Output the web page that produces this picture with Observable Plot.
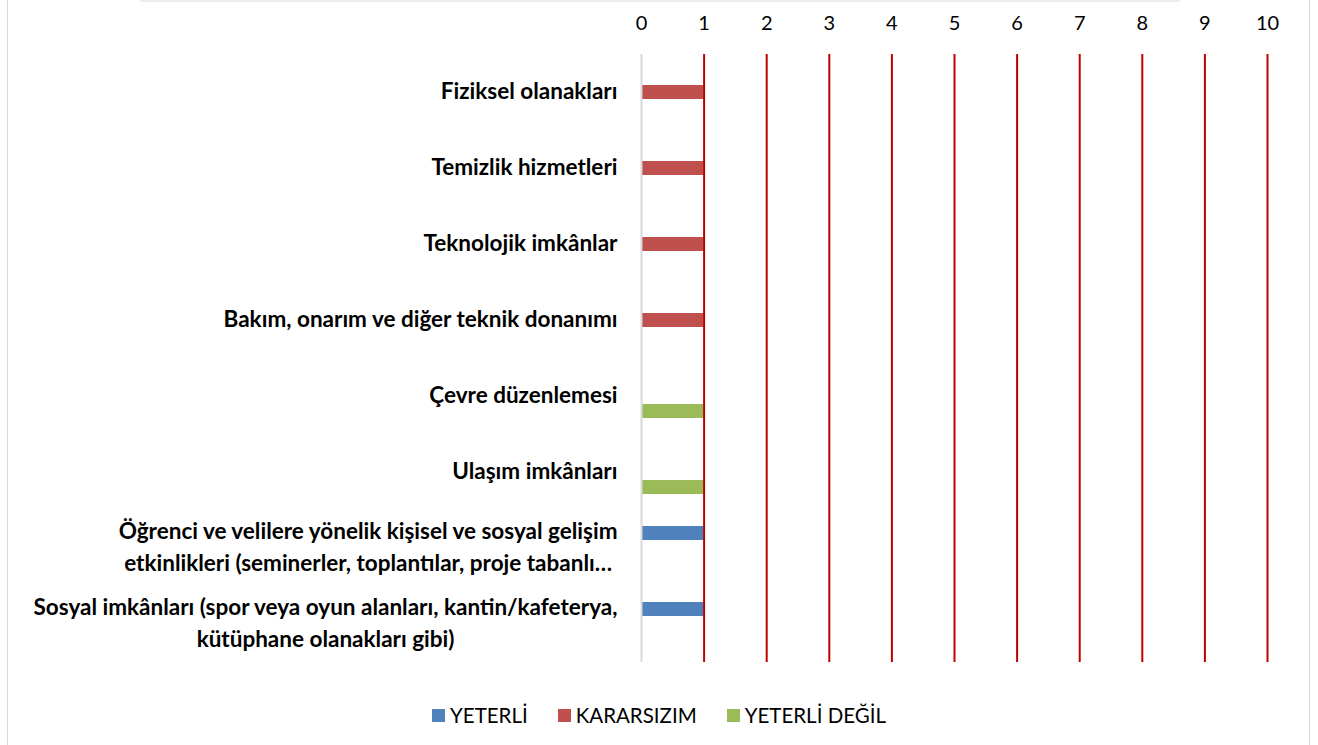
<!DOCTYPE html>
<html><head><meta charset="utf-8">
<script src="https://cdn.jsdelivr.net/npm/d3@7"></script>
<script src="https://cdn.jsdelivr.net/npm/@observablehq/plot@0.6"></script>
<style>
body{margin:0;background:#fff;font-family:Lato,"Open Sans",sans-serif;}
#wrap{position:relative;width:1318px;height:745px;overflow:hidden;}
#frame{position:absolute;left:7px;top:-2px;width:1303px;height:760px;border:1px solid #d9d9d9;box-sizing:border-box;}
#topshadow{position:absolute;left:140px;top:0;width:1040px;height:2px;background:#ececec;}
#chart{position:absolute;left:0;top:0;}
#legend{position:absolute;top:703px;left:0;width:1318px;display:flex;justify-content:center;gap:30px;font-size:20.5px;color:#000;}
#legend .item{display:flex;align-items:center;gap:5px;}
#legend .sw{width:13px;height:13px;display:inline-block;}
</style></head>
<body>
<div id="wrap"><div id="frame"></div><div id="topshadow"></div><div id="chart"></div><div id="legend"></div></div>
<script>
const categories = [
  "Fiziksel olanakları",
  "Temizlik hizmetleri",
  "Teknolojik imkânlar",
  "Bakım, onarım ve diğer teknik donanımı",
  "Çevre düzenlemesi",
  "Ulaşım imkânları",
  "Öğrenci ve velilere yönelik kişisel ve sosyal gelişim\netkinlikleri (seminerler, toplantılar, proje tabanlı…",
  "Sosyal imkânları (spor veya oyun alanları, kantin/kafeterya,\nkütüphane olanakları gibi)"
];
const series = ["YETERLİ", "KARARSIZIM", "YETERLİ DEĞİL"];
const colors = ["#4f81bd", "#c0504d", "#9bbb59"];
const yeterli      = [0, 0, 0, 0, 0, 0, 1, 1];
const kararsizim   = [1, 1, 1, 1, 0, 0, 0, 0];
const yeterliDegil = [0, 0, 0, 0, 1, 1, 0, 0];
const xTicks = [0, 1, 2, 3, 4, 5, 6, 7, 8, 9, 10];

const seriesValues = [yeterli, kararsizim, yeterliDegil];
const data = categories.flatMap((c, i) =>
  series.map((s, j) => ({category: c, series: s, value: seriesValues[j][i]})));

const plot = Plot.plot({
  width: 1318, height: 680,
  marginLeft: 641, marginRight: 51, marginTop: 53, marginBottom: 17,
  style: {fontFamily: "Lato, 'Open Sans', sans-serif", background: "transparent"},
  x: {domain: [0, 10], axis: null, label: null},
  fy: {domain: categories, padding: 0, axis: null, label: null},
  y: {domain: series, paddingInner: 0.06, paddingOuter: 0.92, axis: null, label: null},
  color: {domain: series, range: colors},
  marks: [
    Plot.axisX({anchor: "top", ticks: xTicks, tickSize: 0, tickPadding: 25, fontSize: 20, fill: "#000", label: null}),
    Plot.axisFy({anchor: "left", tickSize: 0, tickPadding: 24, fontSize: 22.5, fontWeight: "bold", fill: "#000", lineHeight: 1.42, dy: -4, label: null}),
    Plot.barX(data.filter(d => d.value > 0), {fy: "category", y: "series", x1: 0, x2: "value", fill: "series"}),
    Plot.ruleX([0], {stroke: "#d9d9d9", strokeWidth: 2}),
    Plot.ruleX(xTicks.filter(d => d > 0), {stroke: "#c00000", strokeWidth: 2})
  ]
});
document.getElementById("chart").appendChild(plot);

// Center lines of multi-line category labels (block stays right-aligned)
plot.querySelectorAll("text").forEach(t => {
  const spans = t.querySelectorAll("tspan");
  if (spans.length > 1) {
    let w = 0;
    spans.forEach(s => { w = Math.max(w, s.getComputedTextLength()); });
    t.setAttribute("text-anchor", "middle");
    spans.forEach(s => s.setAttribute("x", -w / 2));
  }
});

const legend = d3.select("#legend");
series.forEach((s, i) => {
  const item = legend.append("div").attr("class", "item");
  item.append("span").attr("class", "sw").style("background", colors[i]);
  item.append("span").text(s);
});
</script>
</body></html>
